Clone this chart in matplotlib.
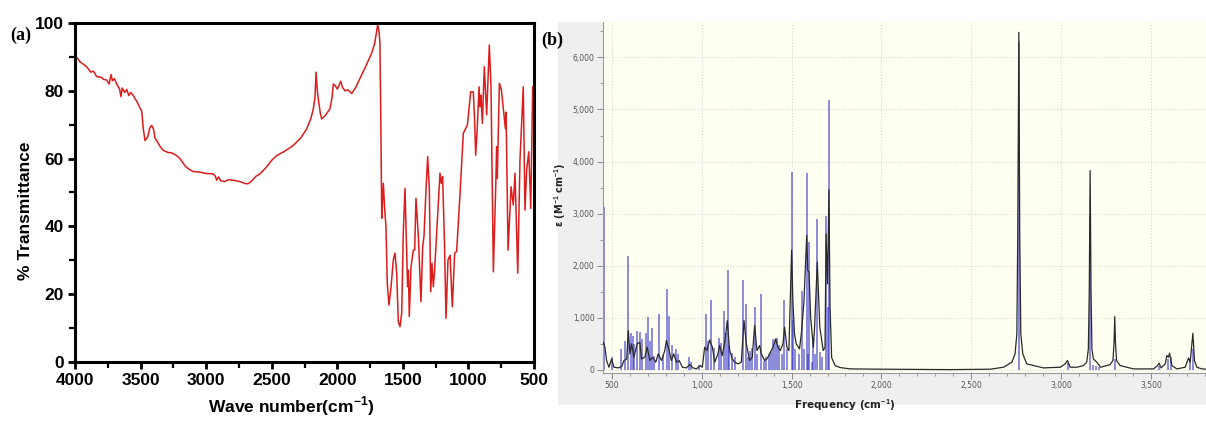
import matplotlib
matplotlib.use('Agg')
import matplotlib.pyplot as plt
from matplotlib.patches import Rectangle
from matplotlib.ticker import MultipleLocator, FuncFormatter

plt.rcParams['font.family'] = ['Liberation Sans', 'DejaVu Sans']
plt.rcParams['mathtext.fontset'] = 'custom'
plt.rcParams['mathtext.bf'] = 'Liberation Sans:bold'
plt.rcParams['mathtext.rm'] = 'Liberation Sans:bold'

# (a) experimental FT-IR spectrum
wave_number = [4000, 3960, 3911, 3880, 3860, 3835, 3800, 3780, 3759, 3740, 3725, 3715,
               3700, 3682, 3660, 3650, 3640, 3620, 3605, 3590, 3575, 3557, 3540, 3530,
               3505, 3491, 3480, 3466, 3445, 3430, 3415, 3400, 3390, 3377, 3350, 3327,
               3290, 3263, 3230, 3199, 3160, 3136, 3100, 3047, 3000, 2948, 2930, 2920,
               2905, 2890, 2860, 2830, 2793, 2740, 2700, 2679, 2650, 2620, 2589, 2540,
               2500, 2462, 2400, 2335, 2280, 2233, 2200, 2183, 2170, 2162, 2152, 2145,
               2130, 2119, 2090, 2056, 2040, 2030, 2015, 2000, 1985, 1974, 1960, 1941,
               1920, 1890, 1860, 1827, 1780, 1738, 1715, 1700, 1692, 1682, 1675, 1668,
               1661, 1655, 1649, 1640, 1629, 1619, 1606, 1590, 1573, 1560, 1547, 1535,
               1522, 1509, 1497, 1484, 1471, 1464, 1458, 1451, 1438, 1420, 1410, 1400,
               1382, 1362, 1349, 1339, 1326, 1311, 1298, 1288, 1278, 1268, 1258, 1242,
               1217, 1207, 1197, 1184, 1171, 1156, 1140, 1123, 1105, 1090, 1064, 1039,
               1008, 983, 963, 953, 945, 933, 919, 911, 904, 894, 879, 861,
               841, 828, 810, 792, 785, 780, 764, 749, 728, 718, 713, 698,
               675, 658, 645, 624, 607, 582, 569, 556, 540, 525, 510, 500]
transmittance = [90.5, 88.5, 87.1, 85.5, 85.8, 84.2, 84.0, 83.3, 83.2, 82.0, 84.8, 83.0,
                 83.6, 82.0, 80.5, 78.3, 80.8, 79.5, 80.4, 78.6, 79.5, 78.7, 77.5, 77.0,
                 75.0, 74.0, 69.0, 65.3, 66.5, 69.0, 69.8, 68.5, 66.0, 65.3, 63.5, 62.4,
                 61.8, 61.7, 61.0, 60.0, 57.8, 57.0, 56.2, 56.0, 55.6, 55.5, 54.8, 53.6,
                 54.6, 53.5, 53.2, 53.8, 53.6, 53.2, 52.6, 52.6, 53.5, 54.8, 55.5, 57.5,
                 59.5, 60.9, 62.2, 63.9, 66.0, 68.8, 72.0, 74.7, 78.0, 85.5, 80.0, 77.6,
                 73.5, 71.7, 72.8, 74.7, 78.0, 82.0, 81.5, 80.5, 81.8, 82.8, 81.0, 80.0,
                 80.3, 79.2, 81.0, 83.7, 87.5, 91.1, 94.0, 97.5, 99.5, 97.5, 94.0, 70.0,
                 42.4, 48.0, 52.7, 46.0, 39.9, 23.2, 16.8, 22.2, 30.1, 32.1, 26.2, 11.9,
                 10.4, 14.4, 38.0, 51.2, 32.1, 22.2, 27.1, 13.4, 28.1, 33.0, 33.0, 48.3,
                 37.0, 17.8, 34.0, 37.0, 48.8, 60.6, 50.7, 20.7, 29.1, 22.2, 27.0, 38.0,
                 55.7, 52.7, 54.7, 37.0, 12.9, 30.1, 31.5, 16.3, 32.1, 32.6, 49.8, 67.5,
                 69.9, 79.7, 79.7, 71.4, 61.0, 68.8, 81.2, 75.3, 78.7, 70.4, 87.1, 72.9,
                 93.5, 81.2, 26.6, 51.7, 63.5, 54.2, 82.2, 80.3, 72.4, 68.8, 73.7, 33.0,
                 51.7, 46.3, 55.7, 26.2, 59.6, 81.2, 44.8, 56.7, 62.0, 45.3, 81.2, 80.0]

# (b) computed IR spectrum: stick intensities and broadened curve
stick_freq = [455, 498, 550, 572, 591, 604, 615, 622, 637, 656, 668, 687, 699, 711, 724,
              735, 763, 783, 804, 817, 836, 854, 865, 930, 940, 982, 1022, 1032, 1050,
              1069, 1094, 1107, 1125, 1133, 1144, 1152, 1166, 1184, 1231, 1244, 1258,
              1268, 1280, 1296, 1310, 1328, 1345, 1358, 1372, 1384, 1395, 1406, 1418,
              1430, 1448, 1460, 1475, 1500, 1510, 1520, 1540, 1556, 1570, 1584, 1592,
              1599, 1612, 1621, 1633, 1643, 1656, 1668, 1692, 1700, 1708,
              2765, 3036, 3162, 3180, 3195, 3210, 3299, 3548, 3598, 3610, 3718, 3734]
stick_eps = [3120, 250, 410, 557, 2180, 700, 650, 500, 750, 720, 600, 700, 1020, 560, 795,
             270, 1070, 290, 1550, 1030, 480, 410, 300, 240, 150, 100, 1070, 560, 1345,
             420, 620, 520, 1135, 700, 1915, 450, 330, 240, 1725, 1265, 250,
             370, 420, 1200, 300, 1455, 173, 240, 300, 350, 590, 550, 620,
             480, 300, 1340, 400, 3800, 950, 400, 300, 1510, 400, 3780, 300,
             2450, 150, 620, 300, 2900, 350, 250, 2960, 1200, 5190,
             6300, 130, 3000, 100, 80, 60, 200, 80, 200, 250, 200, 400]

curve_freq = [451, 461, 470, 483, 498, 511, 535, 554, 567, 582, 591, 600, 609, 622, 640,
              655, 664, 683, 696, 711, 726, 744, 757, 776, 794, 803, 818, 831, 844, 859,
              874, 892, 914, 933, 951, 970, 992, 1003, 1016, 1029, 1044, 1059, 1072,
              1090, 1099, 1114, 1129, 1142, 1155, 1170, 1183, 1201, 1220, 1235, 1248,
              1266, 1281, 1294, 1307, 1322, 1331, 1350, 1363, 1378, 1396, 1411, 1424,
              1437, 1452, 1461, 1474, 1485, 1500, 1507, 1516, 1526, 1544, 1556, 1569,
              1584, 1590, 1597, 1606, 1621, 1628, 1643, 1657, 1676, 1686, 1692, 1700,
              1708, 1714, 1723, 1742, 1770, 1826, 2011, 2383, 2606, 2680, 2726, 2744,
              2754, 2759, 2765, 2770, 2776, 2787, 2809, 2902, 2995, 3023, 3036, 3051,
              3088, 3125, 3143, 3152, 3157, 3162, 3167, 3172, 3180, 3199, 3221, 3273,
              3289, 3295, 3299, 3303, 3309, 3329, 3403, 3515, 3537, 3546, 3557, 3580,
              3589, 3598, 3604, 3617, 3645, 3691, 3710, 3719, 3734, 3743, 3756, 3784, 3805]
curve_eps = [531, 435, 180, 51, 211, 51, 38, 64, 180, 211, 755, 307, 500, 243, 500,
             531, 211, 243, 435, 180, 243, 147, 307, 180, 371, 563, 371, 180, 307, 147,
             180, 51, 38, 102, 38, 19, 83, 51, 435, 371, 576, 435, 147,
             307, 467, 275, 563, 947, 371, 211, 147, 115, 147, 947, 500,
             180, 243, 851, 371, 467, 307, 180, 211, 307, 435, 595, 435,
             371, 500, 819, 435, 371, 2300, 1331, 691, 500, 403, 755, 1331,
             2580, 1907, 1880, 1011, 434, 819, 2067, 819, 371, 434, 2611, 1651,
             3460, 1197, 235, 83, 45, 19, 13, 5, 13, 51, 147, 307,
             691, 2611, 6483, 2611, 691, 307, 115, 38, 51, 115, 180, 51,
             51, 83, 147, 400, 1500, 3827, 1500, 400, 211, 147, 51, 100,
             180, 520, 1024, 520, 180, 83, 19, 19, 83, 128, 38, 115,
             275, 243, 320, 83, 19, 51, 230, 147, 704, 180, 51, 19, 15]

fig = plt.figure(figsize=(12.06, 4.22), dpi=100)

# grey panel behind the computed spectrum
fig.add_artist(Rectangle((0.4627, 0.0403), 0.5373, 0.9076, transform=fig.transFigure,
                         facecolor='#efefef', edgecolor='none', zorder=0))

# ---- (a) ----
ax1 = fig.add_axes([0.0622, 0.1422, 0.3806, 0.8033])
ax1.plot(wave_number, transmittance, color='#dd1c1c', lw=1.1)
ax1.set_xlim(4000, 500)
ax1.set_ylim(0, 100)
ax1.set_xticks([4000, 3500, 3000, 2500, 2000, 1500, 1000, 500])
ax1.xaxis.set_minor_locator(MultipleLocator(250))
ax1.set_yticks([0, 20, 40, 60, 80, 100])
ax1.yaxis.set_minor_locator(MultipleLocator(10))
ax1.tick_params(which='major', direction='out', length=5, width=2, labelsize=12.5, pad=3)
ax1.tick_params(which='minor', direction='out', length=4, width=1.6)
for sp in ax1.spines.values():
    sp.set_linewidth(2.2)
plt.setp(ax1.get_xticklabels() + ax1.get_yticklabels(), fontweight='bold')
ax1.set_xlabel(r'Wave number(cm$^{\mathbf{-1}}$)', fontsize=12.5, fontweight='bold')
ax1.xaxis.set_label_coords(0.47, -0.095)
ax1.set_ylabel('% Transmittance', fontsize=12.5, fontweight='bold')
ax1.yaxis.set_label_coords(-0.092, 0.445)
fig.text(10 / 1206, 1 - 35 / 422, '(a)', family='Liberation Serif', fontweight='bold',
         fontsize=13, va='center', ha='left')

# ---- (b) ----
ax2 = fig.add_axes([0.5, 0.1161, 0.5, 0.8318], facecolor='#fffff2')
ax2.vlines(stick_freq, 0, stick_eps, colors='#2b2bc8', alpha=0.55, lw=1.4, zorder=2)
ax2.plot(curve_freq, curve_eps, color='#2a2a2a', lw=0.9, zorder=3)
ax2.set_xlim(450, 3807)
ax2.set_ylim(-60, 6680)
ax2.xaxis.set_major_locator(MultipleLocator(500))
ax2.xaxis.set_minor_locator(MultipleLocator(100))
ax2.yaxis.set_major_locator(MultipleLocator(1000))
ax2.yaxis.set_minor_locator(MultipleLocator(500))
comma = FuncFormatter(lambda v, p: f'{int(v):,}')
ax2.xaxis.set_major_formatter(comma)
ax2.yaxis.set_major_formatter(comma)
ax2.spines['top'].set_visible(False)
ax2.spines['right'].set_visible(False)
for s in ('left', 'bottom'):
    ax2.spines[s].set_color('#9a9a9a')
    ax2.spines[s].set_linewidth(0.8)
ax2.tick_params(which='major', direction='out', length=4, width=0.7, colors='#8a8a8a',
                labelcolor='#555555', labelsize=5.5, pad=2)
ax2.tick_params(which='minor', direction='out', length=2.5, width=0.6, colors='#8a8a8a')
for lab in ax2.get_xticklabels() + ax2.get_yticklabels():
    lab.set_family('DejaVu Sans')
ax2.grid(True, which='major', ls=':', color='#d6d6d6', lw=0.8)
ax2.set_axisbelow(True)
ax2.set_xlabel(r'Frequency (cm$^{\mathbf{-1}}$)', fontsize=7.5, fontweight='bold',
               family='DejaVu Sans', color='#222222')
ax2.xaxis.set_label_coords(0.40, -0.068)
ax2.set_ylabel(r'ε (M$^{\mathbf{-1}}$ cm$^{\mathbf{-1}}$)', fontsize=7, fontweight='bold',
               family='DejaVu Sans', color='#222222')
ax2.yaxis.set_label_coords(-0.058, 0.507)
fig.text(541 / 1206, 1 - 40 / 422, '(b)', family='Liberation Serif', fontweight='bold',
         fontsize=13, va='center', ha='left')

fig.savefig('out.png', dpi=100)
